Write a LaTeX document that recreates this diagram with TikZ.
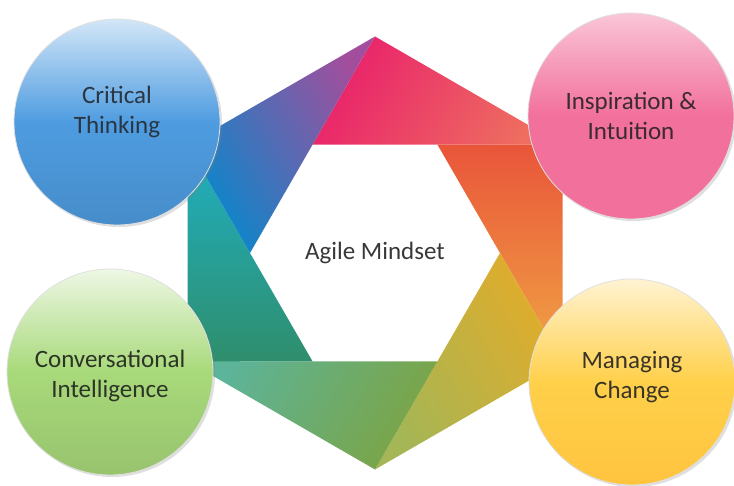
\documentclass[tikz,border=0pt]{standalone}
\usepackage{fontspec}
\setmainfont{Carlito}
\usetikzlibrary{shadows}
\definecolor{hexpink}{HTML}{E9216B}
\definecolor{hexsalmon}{HTML}{EE6E60}
\definecolor{hexred}{HTML}{E9553A}
\definecolor{hexorange}{HTML}{F0A444}
\definecolor{hexgold}{HTML}{E2AC2A}
\definecolor{hexolive}{HTML}{A4B656}
\definecolor{hexgreen}{HTML}{7CA444}
\definecolor{hexsea}{HTML}{5CB49A}
\definecolor{hexteal}{HTML}{2F8E6C}
\definecolor{hexcyan}{HTML}{1FB0C4}
\definecolor{hexblue}{HTML}{0888CC}
\definecolor{hexpurple}{HTML}{A24E9C}
\definecolor{critical}{HTML}{4E9CE0}
\definecolor{inspire}{HTML}{F2709C}
\definecolor{convers}{HTML}{A8D97A}
\definecolor{managing}{HTML}{FFD04A}
\definecolor{criticaltext}{HTML}{2A3643}
\definecolor{inspiretext}{HTML}{3B2A31}
\definecolor{converstext}{HTML}{2C3426}
\definecolor{managingtext}{HTML}{3A3426}

\begin{document}
\begin{tikzpicture}[x=1pt, y=1pt,
        topic/.style={circle, minimum size=206pt, inner sep=0pt, draw=black!12, line width=0.8pt,
          drop shadow={opacity=0.25, shadow xshift=2pt, shadow yshift=-2pt}},
        caption/.style={align=center, font=\fontsize{25}{30}\selectfont}]
      \useasboundingbox (0,0) rectangle (734,485);
      % Pinwheel hexagon
      \def\R{216.5}
      \def\r{125}
      \begin{scope}[shift={(375,232)}]
        \foreach \a/\ca/\cb [evaluate=\a as \ang using \a-30] in
            {90/hexpink/hexsalmon, 30/hexred/hexorange, -30/hexgold/hexolive,
             -90/hexgreen/hexsea, -150/hexteal/hexcyan, 150/hexblue/hexpurple}
          \shade[top color=\ca, bottom color=\cb, shading angle=\ang]
            (\a:\R) -- (\a-60:\R) -- (\a+30:\r) -- cycle;
        \node[caption, text=black!78] (mindset) at (0,0) {Agile Mindset};
      \end{scope}

      % Topics
      \node[topic, top color=critical!25!white, bottom color=critical!90!black, middle color=critical] (critical) at (117,363) {};
      \node[topic, top color=inspire!40!white, bottom color=inspire, middle color=inspire] (inspiration) at (631,369) {};
      \node[topic, top color=convers!20!white, bottom color=convers!90!black, middle color=convers] (conversational) at (110,113) {};
      \node[topic, top color=managing!25!white, bottom color=managing!85!orange, middle color=managing] (managing) at (632,103) {};

      % Captions
      \node[caption, text=criticaltext] at ([yshift=10pt]critical.center) {Critical\\Thinking};
      \node[caption, text=inspiretext] at (inspiration.center) {Inspiration \&\\Intuition};
      \node[caption, text=converstext] at ([yshift=-4pt]conversational.center) {Conversational\\Intelligence};
      \node[caption, text=managingtext] at ([yshift=5pt]managing.center) {Managing\\Change};
    \end{tikzpicture}
\end{document}
